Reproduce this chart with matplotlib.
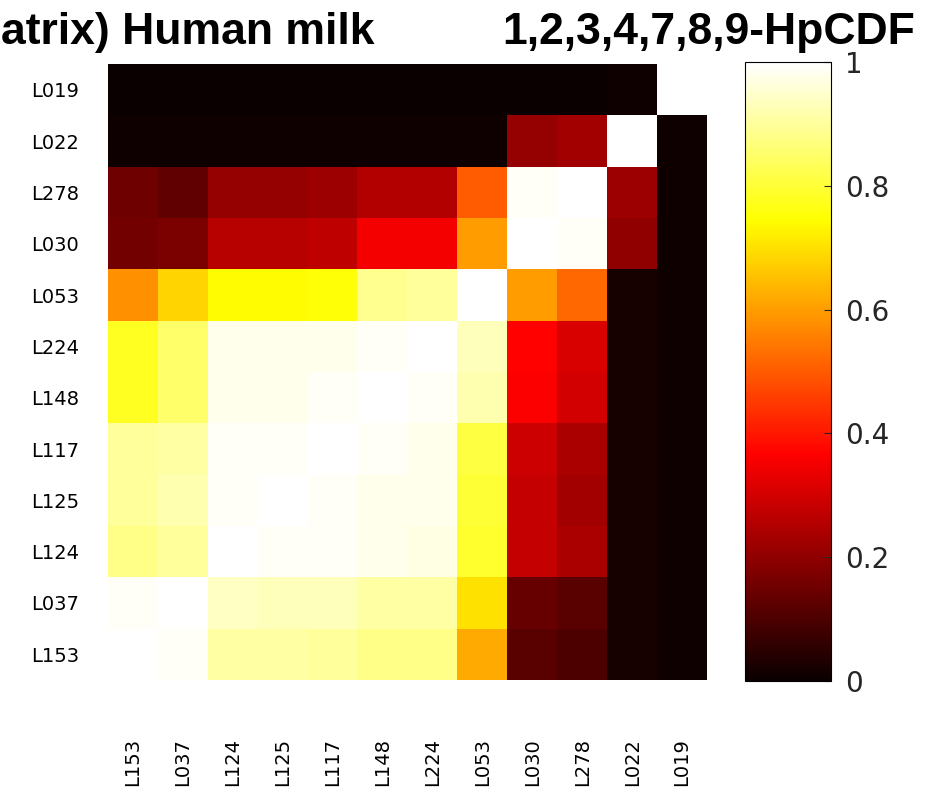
import numpy as np
import matplotlib
matplotlib.use('Agg')
import matplotlib.pyplot as plt

plt.rcParams['font.family'] = ['Liberation Sans', 'DejaVu Sans']

# sample order, top to bottom (columns run the other way)
row_labels = ['L019', 'L022', 'L278', 'L030', 'L053', 'L224',
              'L148', 'L117', 'L125', 'L124', 'L037', 'L153']
col_labels = row_labels[::-1]

# similarity values, one list per row, columns L153 ... L019
r_L019 = [0.00, 0.00, 0.00, 0.00, 0.00, 0.00, 0.00, 0.00, 0.00, 0.00, 0.01, 1.00]
r_L022 = [0.01, 0.01, 0.01, 0.01, 0.01, 0.01, 0.01, 0.01, 0.21, 0.23, 1.00, 0.01]
r_L278 = [0.15, 0.13, 0.21, 0.21, 0.22, 0.25, 0.25, 0.50, 0.99, 1.00, 0.22, 0.01]
r_L030 = [0.16, 0.17, 0.26, 0.26, 0.27, 0.35, 0.35, 0.60, 1.00, 0.99, 0.20, 0.01]
r_L053 = [0.58, 0.68, 0.74, 0.74, 0.75, 0.89, 0.90, 1.00, 0.60, 0.52, 0.02, 0.01]
r_L224 = [0.78, 0.85, 0.98, 0.98, 0.98, 0.99, 1.00, 0.93, 0.37, 0.31, 0.02, 0.01]
r_L148 = [0.78, 0.85, 0.98, 0.98, 0.99, 1.00, 0.99, 0.92, 0.36, 0.30, 0.02, 0.01]
r_L117 = [0.90, 0.91, 0.99, 0.99, 1.00, 0.99, 0.98, 0.81, 0.29, 0.24, 0.02, 0.01]
r_L125 = [0.90, 0.92, 0.99, 1.00, 0.99, 0.98, 0.98, 0.80, 0.28, 0.23, 0.02, 0.01]
r_L124 = [0.88, 0.90, 1.00, 0.99, 0.99, 0.98, 0.97, 0.79, 0.28, 0.24, 0.02, 0.01]
r_L037 = [0.99, 1.00, 0.94, 0.93, 0.93, 0.91, 0.91, 0.70, 0.14, 0.12, 0.02, 0.01]
r_L153 = [1.00, 0.99, 0.91, 0.91, 0.90, 0.88, 0.88, 0.62, 0.12, 0.10, 0.02, 0.01]

mat = np.array([r_L019, r_L022, r_L278, r_L030, r_L053, r_L224,
                r_L148, r_L117, r_L125, r_L124, r_L037, r_L153])

cbar_ticks = [0, 0.2, 0.4, 0.6, 0.8, 1]
cbar_labels = ['0', '0.2', '0.4', '0.6', '0.8', '1']

W, H = 927, 798
fig = plt.figure(figsize=(W / 100, H / 100), dpi=100)

def px(l, t, r, b):
    return [l / W, 1 - b / H, (r - l) / W, (b - t) / H]

ax = fig.add_axes(px(108, 64, 707, 680))
im = ax.imshow(mat, cmap='hot', vmin=0, vmax=1, aspect='auto',
               interpolation='nearest')
ax.set_xticks(range(len(col_labels)))
ax.set_xticklabels(col_labels, rotation=90, fontsize=14, family='DejaVu Sans')
ax.set_yticks(range(len(row_labels)))
ax.set_yticklabels(row_labels, fontsize=14, family='DejaVu Sans')
ax.tick_params(axis='x', length=0, pad=42)
ax.tick_params(axis='y', length=0, pad=21)
for s in ax.spines.values():
    s.set_visible(False)

cax = fig.add_axes(px(745, 62, 831, 681))
cb = fig.colorbar(im, cax=cax, ticks=cbar_ticks)
cb.ax.set_yticklabels(cbar_labels, family='DejaVu Sans')
cb.ax.tick_params(direction='in', length=5, width=0.8, labelsize=20,
                  pad=10, colors='#262626')
cb.outline.set_linewidth(0.8)

fig.text(1 / W, 1 - 44 / H, 'atrix) Human milk', fontsize=32,
         fontweight='bold', ha='left', va='baseline')
fig.text(915 / W, 1 - 44 / H, '1,2,3,4,7,8,9-HpCDF', fontsize=32,
         fontweight='bold', ha='right', va='baseline')

fig.savefig('out.png', dpi=100)
